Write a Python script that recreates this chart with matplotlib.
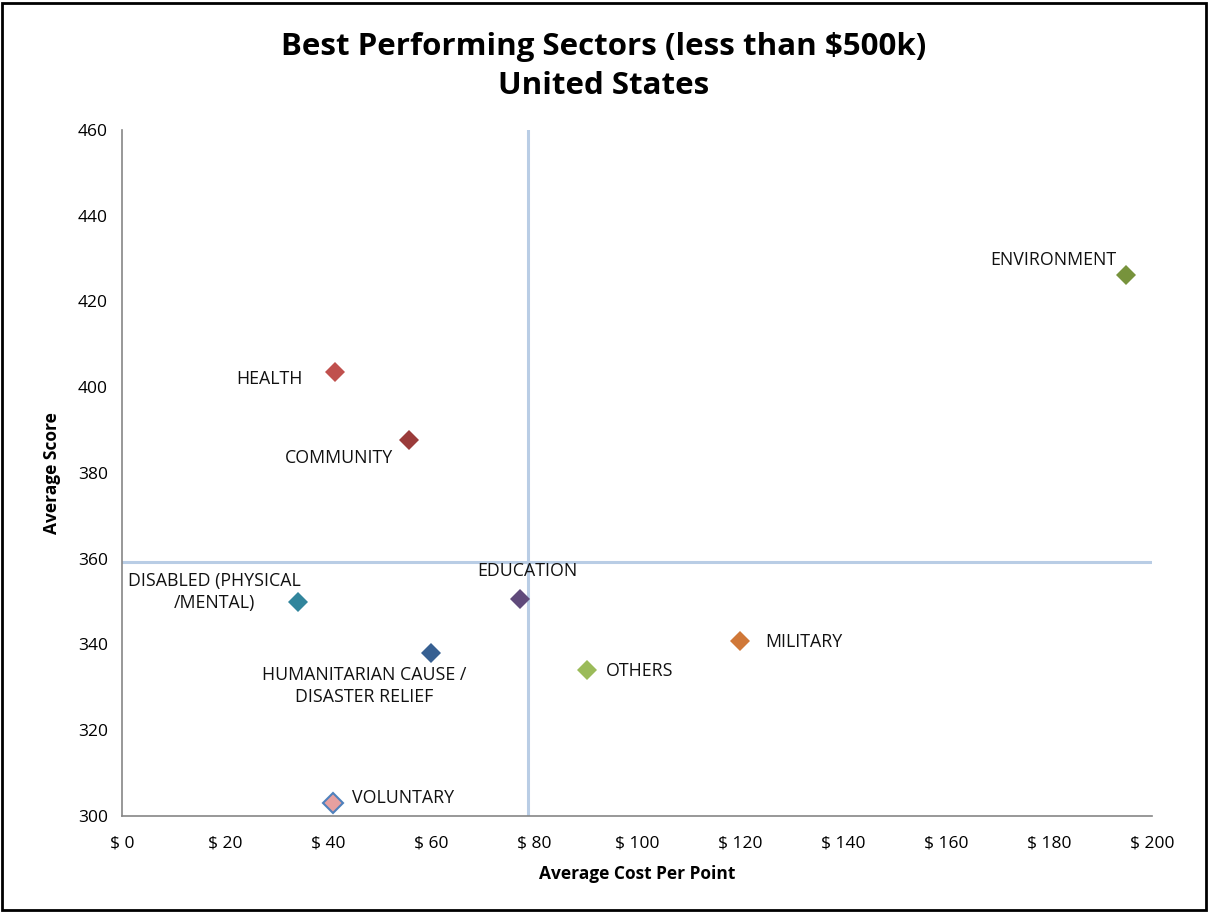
import matplotlib
matplotlib.use('Agg')
import matplotlib.pyplot as plt
from matplotlib.patches import Rectangle

plt.rcParams['font.family'] = ['Open Sans', 'DejaVu Sans']

# sector data
sectors = ['ENVIRONMENT', 'HEALTH', 'COMMUNITY', 'DISABLED (PHYSICAL\n/MENTAL)',
           'EDUCATION', 'HUMANITARIAN CAUSE /\nDISASTER RELIEF', 'MILITARY',
           'OTHERS', 'VOLUNTARY']
cost_per_point = [195.0, 41.4, 55.7, 34.2, 77.3, 60.0, 120.0, 90.3, 41.0]
avg_score = [426.2, 403.6, 387.7, 349.9, 350.6, 338.0, 340.9, 334.1, 303.0]

# mean lines
mean_cost = 78.9
mean_score = 359.2

face_colors = ['#77933C', '#C0504D', '#9B3B3A', '#31859C', '#604A7B',
               '#376092', '#D07838', '#9BBB59', '#E6A0A0']
edge_colors = ['#77933C', '#C0504D', '#9B3B3A', '#31859C', '#604A7B',
               '#376092', '#D07838', '#9BBB59', '#4F81BD']

# label offsets (pixels) and alignment
offsets = [(-10, 15), (-33, -7), (-16, -18), (-84, 10), (7, 28),
           (-67, -33), (25, -1), (19, -1), (19, 5)]
aligns = ['right', 'right', 'right', 'center', 'center',
          'center', 'left', 'left', 'left']

fig = plt.figure(figsize=(12.08, 9.13), dpi=100)
ax = fig.add_axes([0.101, 0.1063, 0.8526, 0.7513])

ax.axvline(mean_cost, color='#B9CDE5', lw=2.2, zorder=1)
ax.axhline(mean_score, color='#B9CDE5', lw=2.2, zorder=1)

for i in range(len(sectors)):
    ax.plot(cost_per_point[i], avg_score[i], marker='D', ms=10.5,
            mfc=face_colors[i], mec=edge_colors[i], mew=1.5 if i == 8 else 0,
            ls='none', zorder=3)
    ax.annotate(sectors[i], (cost_per_point[i], avg_score[i]),
                xytext=offsets[i], textcoords='offset pixels',
                ha=aligns[i], va='center', fontsize=12.8, color='#111111',
                linespacing=1.3)

ax.set_xlim(0, 200)
ax.set_ylim(300, 460)
ax.set_xticks(range(0, 201, 20))
ax.set_xticklabels(['$ ' + str(v) for v in range(0, 201, 20)])
ax.set_yticks(range(300, 461, 20))
ax.tick_params(length=0, labelsize=12.5, pad=14)
ax.tick_params(axis='y', pad=10)

for s in ['top', 'right']:
    ax.spines[s].set_visible(False)
for s in ['left', 'bottom']:
    ax.spines[s].set_color('#868686')
    ax.spines[s].set_linewidth(1.2)

ax.set_xlabel('Average Cost Per Point', fontsize=12.5, fontweight='bold', labelpad=10)
ax.set_ylabel('Average Score', fontsize=12.5, fontweight='bold', labelpad=12)

fig.text(0.5, 0.927, 'Best Performing Sectors (less than $500k)\nUnited States',
         ha='center', va='center', fontsize=22.5, fontweight='bold', linespacing=1.38)

fig.patches.append(Rectangle((0.002, 0.003), 0.996, 0.994, transform=fig.transFigure,
                             fill=False, ec='black', lw=2))

fig.savefig('out.png', dpi=100)
